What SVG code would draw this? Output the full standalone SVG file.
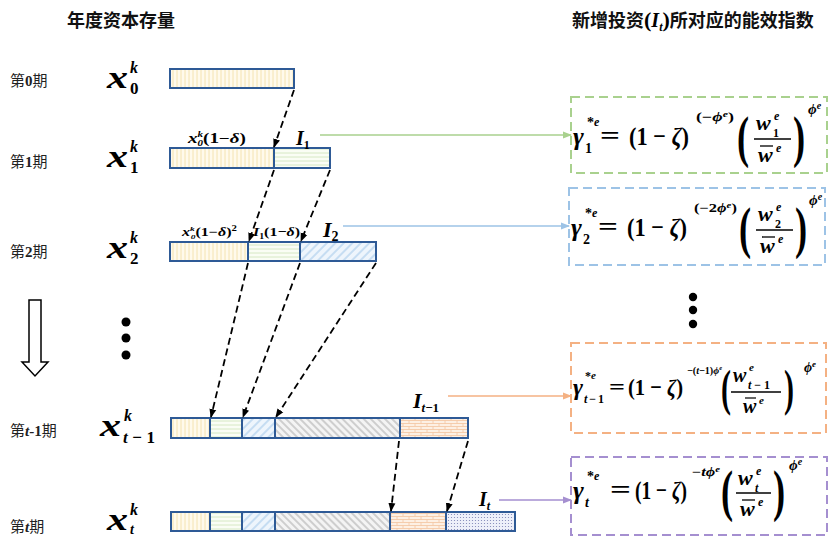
<svg xmlns="http://www.w3.org/2000/svg" width="834" height="537" viewBox="0 0 834 537">
<style>
.hd{font-family:"Noto Sans CJK SC","Noto Sans",sans-serif;font-weight:bold;font-size:18px;fill:#111}
.rl{font-size:15px;fill:#222}
.f{font-weight:bold;fill:#000}
.i{font-style:italic}
.xl{font-weight:bold;fill:#000}
.bar{stroke:#2e5a96;stroke-width:2}
.dash{stroke:#000;stroke-width:1.8;stroke-dasharray:7 4;fill:none;marker-end:url(#ab)}
.box{fill:none;stroke-width:2;stroke-dasharray:9 5}
</style>
<defs>
<marker id="ab" markerUnits="userSpaceOnUse" markerWidth="9" markerHeight="8" refX="8" refY="4" orient="auto"><path d="M0,0.5 L9,4 L0,7.5 z" fill="#000"/></marker>
<marker id="ag" markerUnits="userSpaceOnUse" markerWidth="9" markerHeight="8" refX="8" refY="4" orient="auto"><path d="M0,0.5 L9,4 L0,7.5 z" fill="#a9d18e"/></marker>
<marker id="abl" markerUnits="userSpaceOnUse" markerWidth="9" markerHeight="8" refX="8" refY="4" orient="auto"><path d="M0,0.5 L9,4 L0,7.5 z" fill="#9dc3e6"/></marker>
<marker id="ao" markerUnits="userSpaceOnUse" markerWidth="9" markerHeight="8" refX="8" refY="4" orient="auto"><path d="M0,0.5 L9,4 L0,7.5 z" fill="#f4b183"/></marker>
<marker id="ap" markerUnits="userSpaceOnUse" markerWidth="9" markerHeight="8" refX="8" refY="4" orient="auto"><path d="M0,0.5 L9,4 L0,7.5 z" fill="#a58fd0"/></marker>
<pattern id="pV" width="4" height="4" patternUnits="userSpaceOnUse"><rect width="4" height="4" fill="#fffaec"/><line x1="1" y1="0" x2="1" y2="4" stroke="#f1dda0" stroke-width="0.8"/></pattern>
<pattern id="pH" width="4" height="4" patternUnits="userSpaceOnUse"><rect width="4" height="4" fill="#fafdf5"/><line x1="0" y1="1" x2="4" y2="1" stroke="#cde2b8" stroke-width="0.8"/></pattern>
<pattern id="pB" width="6" height="6" patternUnits="userSpaceOnUse" patternTransform="rotate(45)"><rect width="6" height="6" fill="#eef5fc"/><line x1="1" y1="0" x2="1" y2="6" stroke="#9fc6e8" stroke-width="1"/></pattern>
<pattern id="pG" width="5" height="5" patternUnits="userSpaceOnUse" patternTransform="rotate(-45)"><rect width="5" height="5" fill="#f4f4f4"/><line x1="1" y1="0" x2="1" y2="5" stroke="#a8a8a8" stroke-width="1"/></pattern>
<pattern id="pK" width="12" height="6" patternUnits="userSpaceOnUse"><rect width="12" height="6" fill="#fdf0e4"/><path d="M0,0.5 H12 M0,3.5 H12 M1,0.5 V3.5 M7,3.5 V6" stroke="#f2c4a0" stroke-width="0.8" fill="none"/></pattern>
<pattern id="pD" width="3" height="3" patternUnits="userSpaceOnUse"><rect width="3" height="3" fill="#eef0fa"/><circle cx="1.5" cy="1.5" r="0.6" fill="#7b82b4"/></pattern>
</defs>

<g id="headers">
<text class="hd" x="67" y="27">年度资本存量</text>
<text class="hd" x="572" y="27">新增投资<tspan class="f" font-family="Liberation Serif, DejaVu Serif, serif" font-weight="normal" font-size="22">(</tspan><tspan class="f i" font-family="Liberation Serif, DejaVu Serif, serif" font-size="20">I</tspan><tspan class="f i" font-family="Liberation Serif, DejaVu Serif, serif" font-size="12" dy="4">t</tspan><tspan class="f" font-family="Liberation Serif, DejaVu Serif, serif" font-weight="normal" font-size="22" dy="-4">)</tspan>所对应的能效指数</text>
</g>

<g id="rowlabels" font-family="Liberation Serif, Noto Sans CJK SC, serif">
<text class="rl" x="10" y="86">第<tspan font-weight="bold">0</tspan>期</text>
<text class="rl" x="10" y="167">第<tspan font-weight="bold">1</tspan>期</text>
<text class="rl" x="10" y="257">第<tspan font-weight="bold">2</tspan>期</text>
<text class="rl" x="10" y="436">第<tspan font-weight="bold" font-style="italic">t</tspan><tspan font-weight="bold">-1</tspan>期</text>
<text class="rl" x="10" y="532">第<tspan font-weight="bold" font-style="italic">t</tspan>期</text>
</g>

<g id="xlabels" font-family="Liberation Serif, DejaVu Serif, serif">
<text class="xl i" x="107" y="88" font-size="32" textLength="21" lengthAdjust="spacingAndGlyphs">x</text><text class="xl i" x="130" y="73" font-size="16">k</text><text class="xl" x="130" y="94" font-size="17">0</text>
<text class="xl i" x="107" y="167" font-size="32" textLength="21" lengthAdjust="spacingAndGlyphs">x</text><text class="xl i" x="130" y="152" font-size="16">k</text><text class="xl" x="130" y="173" font-size="17">1</text>
<text class="xl i" x="107" y="258" font-size="32" textLength="21" lengthAdjust="spacingAndGlyphs">x</text><text class="xl i" x="130" y="243" font-size="16">k</text><text class="xl" x="130" y="264" font-size="17">2</text>
<text class="xl i" x="100" y="436" font-size="32" textLength="21" lengthAdjust="spacingAndGlyphs">x</text><text class="xl i" x="124" y="421" font-size="16">k</text><text class="xl" x="123" y="443" font-size="17" textLength="32"><tspan class="i">t</tspan>−1</text>
<text class="xl i" x="107" y="530" font-size="32" textLength="21" lengthAdjust="spacingAndGlyphs">x</text><text class="xl i" x="130" y="515" font-size="16">k</text><text class="xl i" x="130" y="534" font-size="14">t</text>
</g>

<g id="downarrow">
<path d="M29,300 H41 V362 H48 L35,376 L22,362 H29 Z" fill="#fff" stroke="#000" stroke-width="1.5"/>
</g>
<g id="dotsleft" fill="#000">
<circle cx="126" cy="322" r="4.5"/><circle cx="126" cy="338" r="4.5"/><circle cx="126" cy="355" r="4.5"/>
</g>
<g id="dotsright" fill="#000">
<circle cx="693" cy="297" r="4.2"/><circle cx="693" cy="310" r="4.2"/><circle cx="693" cy="324" r="4.2"/>
</g>

<g id="bar0">
<rect class="bar" x="170" y="69" width="124" height="19" fill="url(#pV)"/>
</g>
<g id="bar1" font-family="Liberation Serif, DejaVu Serif, serif">
<rect class="bar" x="170" y="148" width="104" height="20" fill="url(#pV)"/>
<rect class="bar" x="274" y="148" width="56" height="20" fill="url(#pH)"/>
<text class="f i" x="188" y="143" font-size="14" textLength="58" lengthAdjust="spacingAndGlyphs">x<tspan font-size="8" dy="-6">k</tspan><tspan font-size="8" dx="-4" dy="9">0</tspan><tspan font-style="normal" dy="-3">(1−</tspan>δ<tspan font-style="normal">)</tspan></text>
<text class="f i" x="296" y="145" font-size="20">I<tspan font-style="normal" font-size="12" dy="4">1</tspan></text>
</g>
<g id="bar2" font-family="Liberation Serif, DejaVu Serif, serif">
<rect class="bar" x="170" y="242" width="78" height="19" fill="url(#pV)"/>
<rect class="bar" x="248" y="242" width="52" height="19" fill="url(#pH)"/>
<rect class="bar" x="300" y="242" width="76" height="19" fill="url(#pB)"/>
<text class="f i" x="182" y="236" font-size="12" textLength="55" lengthAdjust="spacingAndGlyphs">x<tspan font-size="7" dy="-5">k</tspan><tspan font-size="7" dx="-3" dy="8">0</tspan><tspan font-style="normal" dy="-3">(1−</tspan>δ<tspan font-style="normal">)</tspan><tspan font-style="normal" font-size="8" dy="-5">2</tspan></text>
<text class="f i" x="253" y="236" font-size="13" textLength="47" lengthAdjust="spacingAndGlyphs">I<tspan font-style="normal" font-size="8" dy="3">1</tspan><tspan font-style="normal" dy="-3">(1−</tspan>δ<tspan font-style="normal">)</tspan></text>
<text class="f i" x="323" y="237" font-size="22">I<tspan font-style="normal" font-size="14" dy="4">2</tspan></text>
</g>
<g id="bar3" font-family="Liberation Serif, DejaVu Serif, serif">
<rect class="bar" x="171" y="418" width="39" height="20" fill="url(#pV)"/>
<rect class="bar" x="210" y="418" width="32" height="20" fill="url(#pH)"/>
<rect class="bar" x="242" y="418" width="33" height="20" fill="url(#pB)"/>
<rect class="bar" x="275" y="418" width="125" height="20" fill="url(#pG)"/>
<rect class="bar" x="400" y="418" width="68" height="20" fill="url(#pK)"/>
<text class="f i" x="413" y="408" font-size="22">I<tspan font-size="13" dy="4">t</tspan><tspan font-style="normal" font-size="13">−1</tspan></text>
</g>
<g id="bar4" font-family="Liberation Serif, DejaVu Serif, serif">
<rect class="bar" x="171" y="512" width="39" height="19" fill="url(#pV)"/>
<rect class="bar" x="210" y="512" width="32" height="19" fill="url(#pH)"/>
<rect class="bar" x="242" y="512" width="33" height="19" fill="url(#pB)"/>
<rect class="bar" x="275" y="512" width="115" height="19" fill="url(#pG)"/>
<rect class="bar" x="390" y="512" width="56" height="19" fill="url(#pK)"/>
<rect class="bar" x="446" y="512" width="69" height="19" fill="url(#pD)"/>
<text class="f i" x="479" y="506" font-size="20">I<tspan font-size="12" dy="4">t</tspan></text>
</g>

<g id="connectors">
<line class="dash" x1="294" y1="90" x2="274" y2="147"/>
<line class="dash" x1="274" y1="170" x2="249" y2="241"/>
<line class="dash" x1="330" y1="170" x2="301" y2="241"/>
<line class="dash" x1="248" y1="263" x2="211" y2="417"/>
<line class="dash" x1="300" y1="263" x2="243" y2="417"/>
<line class="dash" x1="376" y1="263" x2="276" y2="417"/>
<line class="dash" x1="399" y1="441" x2="391" y2="511"/>
<line class="dash" x1="468" y1="441" x2="447" y2="511"/>
<line x1="320" y1="135" x2="571" y2="135" stroke="#a9d18e" stroke-width="1.5" marker-end="url(#ag)"/>
<line x1="343" y1="226" x2="569" y2="226" stroke="#9dc3e6" stroke-width="1.5" marker-end="url(#abl)"/>
<line x1="448" y1="396" x2="571" y2="396" stroke="#f4b183" stroke-width="1.5" marker-end="url(#ao)"/>
<line x1="499" y1="500" x2="571" y2="500" stroke="#a58fd0" stroke-width="1.5" marker-end="url(#ap)"/>
</g>

<g id="formula1" font-family="Liberation Serif, DejaVu Serif, serif">
<rect class="box" x="571" y="97" width="256" height="76" stroke="#a9d18e"/>
<text class="f i" x="573" y="145" font-size="26" textLength="14">γ</text>
<text class="f" x="585" y="153" font-size="14">1</text>
<text class="f" x="587" y="127" font-size="14">*<tspan class="i" font-size="12" dy="-1">e</tspan></text>
<text class="f" x="600" y="144" font-size="26" textLength="20" lengthAdjust="spacingAndGlyphs">=</text>
<text class="f" x="629" y="145" font-size="26" textLength="60" lengthAdjust="spacingAndGlyphs">(1 − <tspan class="i">ζ</tspan>)</text>
<text class="f" x="696" y="121" font-size="12" textLength="38" lengthAdjust="spacingAndGlyphs">(−<tspan class="i">ϕ</tspan><tspan class="i" font-size="8" dy="-4">e</tspan><tspan dy="4">)</tspan></text>
<text class="f" font-weight="normal" font-size="56" transform="translate(737 156) scale(0.65 1)">(</text>
<text class="f i" x="756" y="130" font-size="22">w</text>
<text class="f" x="773" y="137" font-size="12">1</text>
<text class="f i" x="774" y="120" font-size="12">e</text>
<line x1="754" y1="139" x2="791" y2="139" stroke="#000" stroke-width="1.5"/>
<text class="f i" x="758" y="162" font-size="22">w</text>
<line x1="760" y1="146" x2="773" y2="146" stroke="#000" stroke-width="1.3"/>
<text class="f i" x="776" y="152" font-size="12">e</text>
<text class="f" font-weight="normal" font-size="56" transform="translate(793 156) scale(0.65 1)">)</text>
<text class="f i" x="808" y="114" font-size="15">ϕ<tspan font-size="10" dy="-5">e</tspan></text>
</g>

<g id="formula2" font-family="Liberation Serif, DejaVu Serif, serif">
<rect class="box" x="569" y="188" width="256" height="77" stroke="#9dc3e6"/>
<text class="f i" x="571" y="236" font-size="26" textLength="14">γ</text>
<text class="f" x="583" y="244" font-size="14">2</text>
<text class="f" x="585" y="218" font-size="14">*<tspan class="i" font-size="12" dy="-1">e</tspan></text>
<text class="f" x="598" y="235" font-size="26" textLength="20" lengthAdjust="spacingAndGlyphs">=</text>
<text class="f" x="627" y="236" font-size="26" textLength="60" lengthAdjust="spacingAndGlyphs">(1 − <tspan class="i">ζ</tspan>)</text>
<text class="f" x="694" y="212" font-size="12" textLength="43" lengthAdjust="spacingAndGlyphs">(−2<tspan class="i">ϕ</tspan><tspan class="i" font-size="8" dy="-4">e</tspan><tspan dy="4">)</tspan></text>
<text class="f" font-weight="normal" font-size="56" transform="translate(739 247) scale(0.65 1)">(</text>
<text class="f i" x="758" y="221" font-size="22">w</text>
<text class="f" x="775" y="228" font-size="12">2</text>
<text class="f i" x="776" y="211" font-size="12">e</text>
<line x1="756" y1="230" x2="793" y2="230" stroke="#000" stroke-width="1.5"/>
<text class="f i" x="760" y="253" font-size="22">w</text>
<line x1="762" y1="237" x2="775" y2="237" stroke="#000" stroke-width="1.3"/>
<text class="f i" x="778" y="243" font-size="12">e</text>
<text class="f" font-weight="normal" font-size="56" transform="translate(795 247) scale(0.65 1)">)</text>
<text class="f i" x="809" y="205" font-size="15">ϕ<tspan font-size="10" dy="-5">e</tspan></text>
</g>

<g id="formula3" font-family="Liberation Serif, DejaVu Serif, serif">
<rect class="box" x="571" y="343" width="255" height="90" stroke="#f4b183"/>
<text class="f i" x="573" y="395" font-size="24" textLength="13">γ</text>
<text class="f" x="584" y="403" font-size="12" textLength="20"><tspan class="i">t</tspan>−1</text>
<text class="f" x="585" y="380" font-size="12">*<tspan class="i" font-size="11" dy="-1">e</tspan></text>
<text class="f" x="609" y="394" font-size="22" textLength="16" lengthAdjust="spacingAndGlyphs">=</text>
<text class="f" x="628" y="395" font-size="24" textLength="55" lengthAdjust="spacingAndGlyphs">(1 − <tspan class="i">ζ</tspan>)</text>
<text class="f" x="687" y="374" font-size="11" textLength="35" lengthAdjust="spacingAndGlyphs">−(<tspan class="i">t</tspan>−1)<tspan class="i">ϕ</tspan><tspan class="i" font-size="7" dy="-4">e</tspan></text>
<text class="f" font-weight="normal" font-size="50" transform="translate(721 405) scale(0.6 1)">(</text>
<text class="f i" x="733" y="382" font-size="20">w</text>
<text class="f" x="748" y="389" font-size="12" textLength="22"><tspan class="i">t</tspan>−1</text>
<text class="f i" x="749" y="371" font-size="11">e</text>
<line x1="731" y1="392" x2="781" y2="392" stroke="#000" stroke-width="1.4"/>
<text class="f i" x="743" y="413" font-size="20">w</text>
<line x1="745" y1="398" x2="756" y2="398" stroke="#000" stroke-width="1.2"/>
<text class="f i" x="759" y="404" font-size="11">e</text>
<text class="f" font-weight="normal" font-size="50" transform="translate(784 405) scale(0.6 1)">)</text>
<text class="f i" x="804" y="372" font-size="14">ϕ<tspan font-size="9" dy="-5">e</tspan></text>
</g>

<g id="formula4" font-family="Liberation Serif, DejaVu Serif, serif">
<rect class="box" x="571" y="457" width="256" height="78" stroke="#a58fd0"/>
<text class="f i" x="573" y="499" font-size="26" textLength="14">γ</text>
<text class="f i" x="585" y="507" font-size="14">t</text>
<text class="f" x="587" y="481" font-size="14">*<tspan class="i" font-size="12" dy="-1">e</tspan></text>
<text class="f" x="610" y="498" font-size="26" textLength="21" lengthAdjust="spacingAndGlyphs">=</text>
<text class="f" x="635" y="499" font-size="26" textLength="52" lengthAdjust="spacingAndGlyphs">(1 − <tspan class="i">ζ</tspan>)</text>
<text class="f" x="692" y="476" font-size="12" textLength="28" lengthAdjust="spacingAndGlyphs">−<tspan class="i">tϕ</tspan><tspan class="i" font-size="8" dy="-4">e</tspan></text>
<text class="f" font-weight="normal" font-size="56" transform="translate(721 510) scale(0.65 1)">(</text>
<text class="f i" x="738" y="485" font-size="22">w</text>
<text class="f i" x="755" y="492" font-size="12">t</text>
<text class="f i" x="756" y="475" font-size="12">e</text>
<line x1="736" y1="493" x2="771" y2="493" stroke="#000" stroke-width="1.5"/>
<text class="f i" x="740" y="516" font-size="22">w</text>
<line x1="742" y1="500" x2="755" y2="500" stroke="#000" stroke-width="1.3"/>
<text class="f i" x="758" y="506" font-size="12">e</text>
<text class="f" font-weight="normal" font-size="56" transform="translate(773 510) scale(0.65 1)">)</text>
<text class="f i" x="789" y="470" font-size="15">ϕ<tspan font-size="10" dy="-5">e</tspan></text>
</g>
</svg>
